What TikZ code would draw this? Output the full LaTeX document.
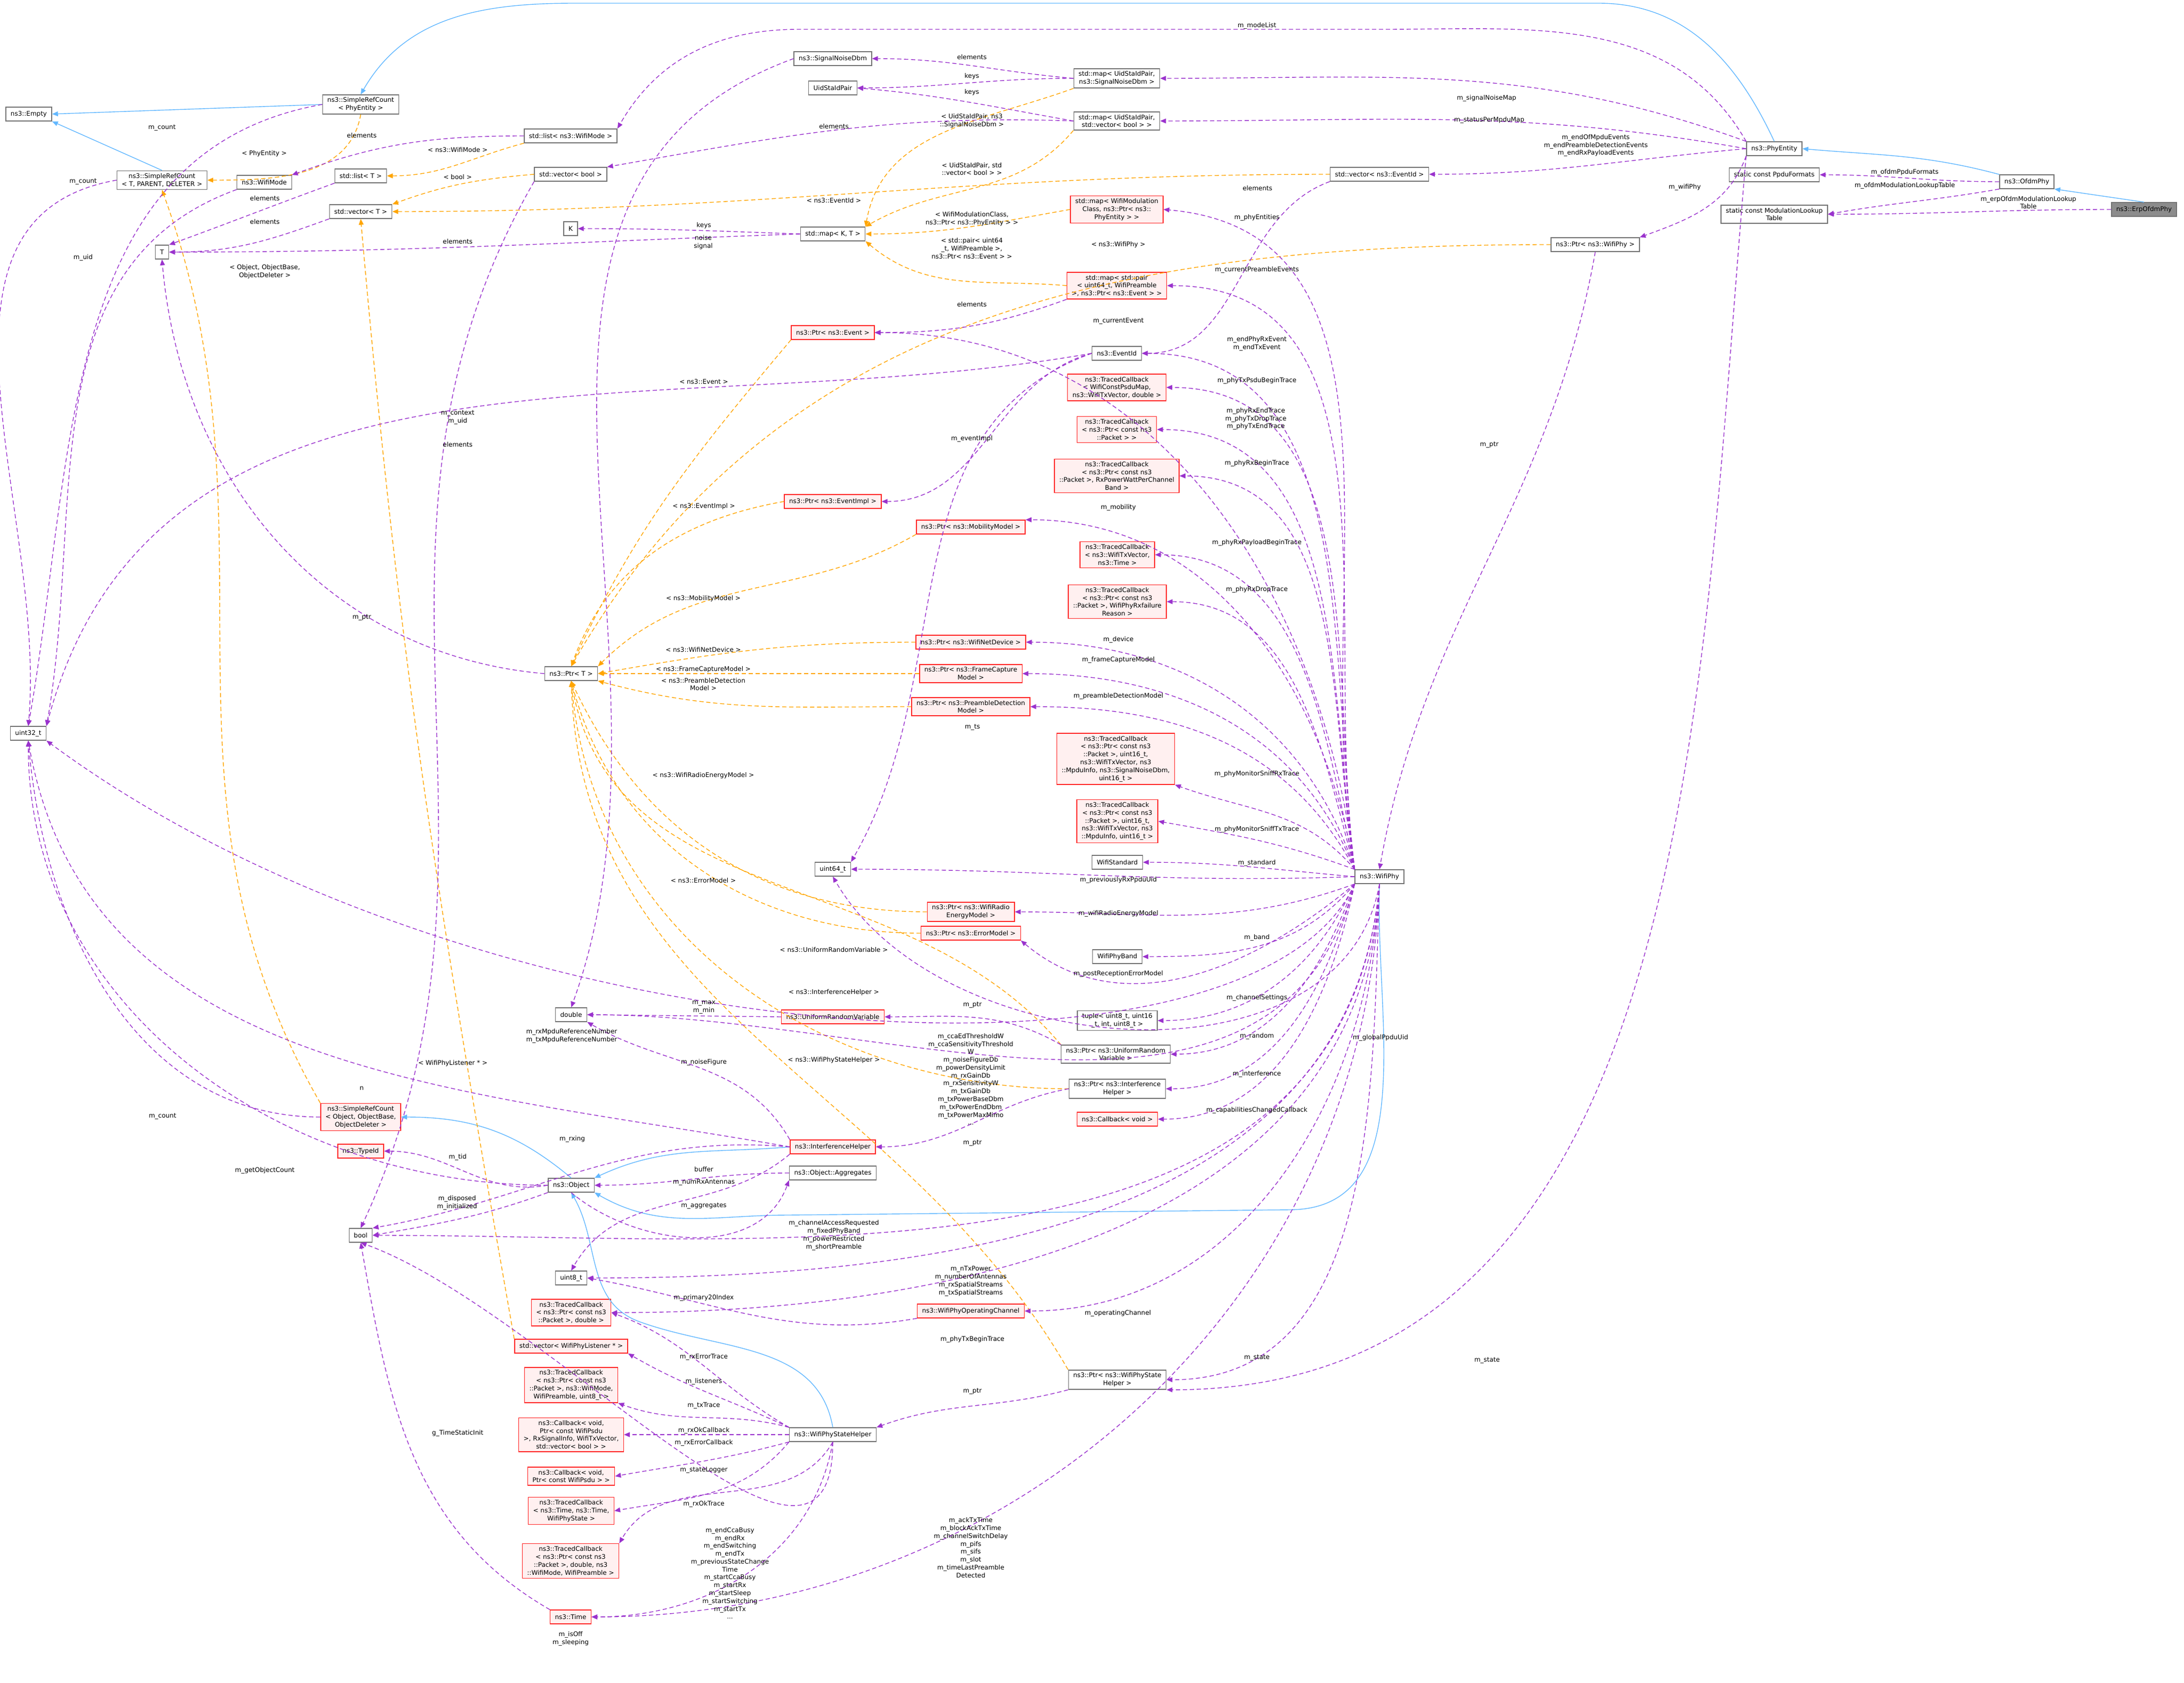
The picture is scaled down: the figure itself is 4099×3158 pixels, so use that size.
\documentclass[tikz,border=0pt]{standalone}
\usepackage{fontspec}
\setmainfont{DejaVu Sans}
\usetikzlibrary{arrows.meta}

\definecolor{memcol}{HTML}{9A32CD}
\definecolor{tplcol}{HTML}{FFA500}
\definecolor{inhcol}{HTML}{63B8FF}

\tikzset{
  box/.style={draw=black!55, fill=white, line width=0.4pt, inner xsep=0.9mm, inner ysep=0.5mm,
    minimum height=2.6mm, align=center, font=\fontsize{3.4}{4.2}\selectfont},
  rbox/.style={box, draw=red!85, fill=red!6},
  gbox/.style={box, fill=black!45},
  lbl/.style={inner sep=0pt, align=center, font=\fontsize{3.4}{4.2}\selectfont},
  mem/.style={draw=memcol, line width=0.4pt, dash pattern=on 0.8mm off 0.5mm,
    -{Triangle[length=1.1mm,width=0.9mm,fill=memcol]}},
  tpl/.style={draw=tplcol, line width=0.4pt, dash pattern=on 0.8mm off 0.5mm,
    -{Triangle[length=1.1mm,width=0.9mm,fill=tplcol]}},
  inh/.style={draw=inhcol, line width=0.4pt, -{Triangle[length=1.1mm,width=0.9mm,fill=inhcol]}},
}

\begin{document}
\begin{tikzpicture}[x=0.01cm,y=-0.01cm]
\useasboundingbox (0,0) rectangle (4099,3158);
% classes, left column
\node[box] (empty) at (54,214) {ns3::Empty};
\node[box] (srcPhy) at (677,196) {ns3::SimpleRefCount\\< PhyEntity >};
\node[box] (srcT) at (304,338) {ns3::SimpleRefCount\\< T, PARENT, DELETER >};
\node[box] (wmode) at (496,342) {ns3::WifiMode};
\node[box] (listT) at (677,330) {std::list< T >};
\node[box] (listMode) at (1071,255) {std::list< ns3::WifiMode >};
\node[box] (vecBool) at (1071,327) {std::vector< bool >};
\node[box] (vecT) at (677,397) {std::vector< T >};
\node[box] (kk) at (1071,429) {K};
\node[box] (tt) at (304,473) {T};
\node[box] (u32) at (53,1376) {uint32\_t};
\node[rbox] (srcObj) at (677,2096) {ns3::SimpleRefCount\\< Object, ObjectBase,\\ObjectDeleter >};
\node[rbox] (tid) at (677,2160) {ns3::TypeId};
\node[box] (bool) at (677,2318) {bool};
% maps and events
\node[box] (snr) at (1563,110) {ns3::SignalNoiseDbm};
\node[box] (uidpair) at (1563,165) {UidStaIdPair};
\node[box] (mapSnr) at (2096,147) {std::map< UidStaIdPair,\\ns3::SignalNoiseDbm >};
\node[box] (mapStatus) at (2096,227) {std::map< UidStaIdPair,\\std::vector< bool > >};
\node[box] (vecEvId) at (2589,327) {std::vector< ns3::EventId >};
\node[rbox] (mapModCls) at (2096,393) {std::map< WifiModulation\\Class, ns3::Ptr< ns3::\\PhyEntity > >};
\node[box] (mapKT) at (1563,439) {std::map< K, T >};
\node[rbox] (mapPair) at (2096,536) {std::map< std::pair\\< uint64\_t, WifiPreamble\\>, ns3::Ptr< ns3::Event > >};
\node[rbox] (ptrEvent) at (1563,624) {ns3::Ptr< ns3::Event >};
\node[box] (evId) at (2096,663) {ns3::EventId};
\node[rbox] (tcPsdu) at (2096,727) {ns3::TracedCallback\\< WifiConstPsduMap,\\ns3::WifiTxVector, double >};
\node[rbox] (tcPkt) at (2096,806) {ns3::TracedCallback\\< ns3::Ptr< const ns3\\::Packet > >};
\node[rbox] (tcRxBegin) at (2096,893) {ns3::TracedCallback\\< ns3::Ptr< const ns3\\::Packet >, RxPowerWattPerChannel\\Band >};
\node[rbox] (ptrEvImpl) at (1563,941) {ns3::Ptr< ns3::EventImpl >};
\node[rbox] (ptrMob) at (1822,989) {ns3::Ptr< ns3::MobilityModel >};
% phy entities
\node[box] (phyEnt) at (3330,279) {ns3::PhyEntity};
\node[box] (ppduFmt) at (3330,328) {static const PpduFormats};
\node[box] (modTable) at (3330,402) {static const ModulationLookup\\Table};
\node[box] (ofdm) at (3804,341) {ns3::OfdmPhy};
\node[gbox] (erp) at (4024,393) {ns3::ErpOfdmPhy};
\node[box] (ptrWifiPhy) at (2994,459) {ns3::Ptr< ns3::WifiPhy >};
% middle column
\node[rbox] (tcTxVec) at (2097,1041) {ns3::TracedCallback\\< ns3::WifiTxVector,\\ns3::Time >};
\node[rbox] (tcRxFail) at (2097,1129) {ns3::TracedCallback\\< ns3::Ptr< const ns3\\::Packet >, WifiPhyRxfailure\\Reason >};
\node[rbox] (ptrDev) at (1822,1205) {ns3::Ptr< ns3::WifiNetDevice >};
\node[rbox] (ptrFrame) at (1822,1264) {ns3::Ptr< ns3::FrameCapture\\Model >};
\node[rbox] (ptrPre) at (1822,1326) {ns3::Ptr< ns3::PreambleDetection\\Model >};
\node[box] (ptrT) at (1072,1264) {ns3::Ptr< T >};
\node[rbox] (tcSniffRx) at (2094,1424) {ns3::TracedCallback\\< ns3::Ptr< const ns3\\::Packet >, uint16\_t,\\ns3::WifiTxVector, ns3\\::MpduInfo, ns3::SignalNoiseDbm,\\uint16\_t >};
\node[rbox] (tcSniffTx) at (2097,1541) {ns3::TracedCallback\\< ns3::Ptr< const ns3\\::Packet >, uint16\_t,\\ns3::WifiTxVector, ns3\\::MpduInfo, uint16\_t >};
\node[box] (wstd) at (2097,1618) {WifiStandard};
\node[box] (u64) at (1563,1631) {uint64\_t};
\node[rbox] (ptrEnergy) at (1822,1711) {ns3::Ptr< ns3::WifiRadio\\EnergyModel >};
\node[rbox] (ptrErr) at (1822,1751) {ns3::Ptr< ns3::ErrorModel >};
\node[box] (wband) at (2097,1795) {WifiPhyBand};
\node[box] (dbl) at (1072,1904) {double};
\node[rbox] (urv) at (1563,1908) {ns3::UniformRandomVariable};
\node[box] (tup) at (2097,1915) {tuple< uint8\_t, uint16\\\_t, int, uint8\_t >};
\node[box] (ptrUrv) at (2094,1978) {ns3::Ptr< ns3::UniformRandom\\Variable >};
\node[box] (wifiphy) at (2589,1645) {ns3::WifiPhy};
\node[box] (ptrIh) at (2097,2043) {ns3::Ptr< ns3::Interference\\Helper >};
\node[rbox] (cbVoid) at (2097,2100) {ns3::Callback< void >};
\node[rbox] (ih) at (1563,2152) {ns3::InterferenceHelper};
\node[box] (aggr) at (1563,2201) {ns3::Object::Aggregates};
\node[box] (obj) at (1072,2224) {ns3::Object};
\node[box] (u8) at (1072,2398) {uint8\_t};
\node[rbox] (tcPktDbl) at (1072,2463) {ns3::TracedCallback\\< ns3::Ptr< const ns3\\::Packet >, double >};
\node[rbox] (opch) at (1822,2460) {ns3::WifiPhyOperatingChannel};
\node[rbox] (vecLis) at (1072,2526) {std::vector< WifiPhyListener * >};
\node[rbox] (tcMode) at (1072,2599) {ns3::TracedCallback\\< ns3::Ptr< const ns3\\::Packet >, ns3::WifiMode,\\WifiPreamble, uint8\_t >};
\node[box] (ptrWsh) at (2097,2589) {ns3::Ptr< ns3::WifiPhyState\\Helper >};
\node[box] (wsh) at (1563,2692) {ns3::WifiPhyStateHelper};
\node[rbox] (cbRxOk) at (1072,2692) {ns3::Callback< void,\\Ptr< const WifiPsdu\\>, RxSignalInfo, WifiTxVector,\\std::vector< bool > >};
\node[rbox] (cbPsdu) at (1072,2770) {ns3::Callback< void,\\Ptr< const WifiPsdu > >};
\node[rbox] (tcTime) at (1072,2835) {ns3::TracedCallback\\< ns3::Time, ns3::Time,\\WifiPhyState >};
\node[rbox] (tcPre) at (1071,2929) {ns3::TracedCallback\\< ns3::Ptr< const ns3\\::Packet >, double, ns3\\::WifiMode, WifiPreamble >};
\node[rbox] (time) at (1071,3034) {ns3::Time};

% inheritance
\draw[inh] (srcPhy.west) -- (empty.east);
\draw[inh] (srcT.north) -- (empty.south east);
\draw[inh] (phyEnt.north) to[out=115,in=0] (3000,6) -- (1080,6) to[out=180,in=60] (srcPhy.north);
\draw[inh] (ofdm.north west) to[out=165,in=-5] (phyEnt.east);
\draw[inh] (erp.north) -- (ofdm.south east);
\draw[inh] (obj.north) to[out=140,in=0] (srcObj.east);
\draw[inh] (ih.west) to[out=185,in=25] (obj.north east);
\draw[inh] (wsh.north) to[out=100,in=-20] (1200,2480) to[out=160,in=-60] (obj.south);
\draw[inh] (wifiphy.south) to[out=-92,in=0] (2420,2270) -- (1480,2280) to[out=180,in=-30] (obj.south east);

% template instances
\draw[tpl] (srcPhy.south) to[out=-100,in=0] (srcT.east);
\draw[tpl] (listMode.south west) to[out=195,in=0] (listT.east);
\draw[tpl] (vecBool.west) to[out=185,in=20] (vecT.north east);
\draw[tpl] (vecEvId.west) to[out=180,in=0] (vecT.east);
\draw[tpl] (srcObj.north west) to[out=120,in=-70] (srcT.south);
\draw[tpl] (vecLis.north west) to[out=100,in=-85] (vecT.south);
\draw[tpl] (mapSnr.south west) to[out=200,in=80] (mapKT.north east);
\draw[tpl] (mapStatus.south west) to[out=230,in=30] (mapKT.north east);
\draw[tpl] (mapModCls.west) to[out=190,in=0] (mapKT.east);
\draw[tpl] (mapPair.west) to[out=175,in=-40] (mapKT.south east);
\draw[tpl] (ptrWifiPhy.west) to[out=180,in=60] (ptrT.north);
\draw[tpl] (ptrEvent.south west) to[out=230,in=65] (ptrT.north);
\draw[tpl] (ptrEvImpl.west) to[out=190,in=70] (ptrT.north);
\draw[tpl] (ptrMob.south west) to[out=210,in=45] (ptrT.north east);
\draw[tpl] (ptrDev.west) to[out=180,in=10] (ptrT.east);
\draw[tpl] (ptrFrame.west) -- (ptrT.east);
\draw[tpl] (ptrPre.west) to[out=180,in=-15] (ptrT.south east);
\draw[tpl] (ptrEnergy.west) to[out=180,in=-65] (ptrT.south);
\draw[tpl] (ptrErr.west) to[out=180,in=-75] (ptrT.south);
\draw[tpl] (ptrUrv.north west) to[out=130,in=-80] (ptrT.south);
\draw[tpl] (ptrIh.west) to[out=180,in=-85] (ptrT.south);
\draw[tpl] (ptrWsh.north west) to[out=120,in=-88] (ptrT.south);

% members
\draw[mem] (srcPhy.west) to[out=190,in=80] (u32.north);
\draw[mem] (srcT.west) to[out=190,in=85] (u32.north);
\draw[mem] (wmode.south west) to[out=200,in=80] (u32.north east);
\draw[mem] (listMode.west) to[out=180,in=20] (wmode.north east);
\draw[mem] (listT.south west) to[out=200,in=20] (tt.north east);
\draw[mem] (vecT.south west) to[out=200,in=0] (tt.east);
\draw[mem] (mapKT.west) to[out=178,in=0] (kk.east);
\draw[mem] (mapKT.west) to[out=182,in=0] (tt.east);
\draw[mem] (vecBool.south west) to[out=240,in=65] (bool.north);
\draw[mem] (mapSnr.west) to[out=175,in=0] (snr.east);
\draw[mem] (mapSnr.west) to[out=180,in=0] (uidpair.east);
\draw[mem] (mapStatus.west) to[out=170,in=-5] (uidpair.east);
\draw[mem] (mapStatus.west) to[out=178,in=10] (vecBool.north east);
\draw[mem] (snr.west) to[out=200,in=70] (dbl.north);
\draw[mem] (vecEvId.south west) to[out=200,in=0] (evId.east);
\draw[mem] (mapPair.south west) to[out=200,in=0] (ptrEvent.east);
\draw[mem] (ptrT.west) to[out=175,in=-85] (tt.south);
\draw[mem] (evId.west) to[out=190,in=75] (u32.north east);
\draw[mem] (evId.west) to[out=195,in=0] (ptrEvImpl.east);
\draw[mem] (evId.west) to[out=200,in=60] (u64.north east);
\draw[mem] (srcObj.west) to[out=180,in=-85] (u32.south);
\draw[mem] (ih.west) to[out=170,in=-80] (u32.south);
\draw[mem] (obj.west) to[out=180,in=-90] (u32.south);
\draw[mem] (obj.west) to[out=190,in=0] (tid.east);
\draw[mem] (obj.south west) to[out=200,in=10] (bool.east);
\draw[mem] (obj.south) to[out=-40,in=-110] (aggr.south west);
\draw[mem] (aggr.west) to[out=180,in=0] (obj.east);
\draw[mem] (ih.south west) to[out=220,in=60] (u8.north);
\draw[mem] (ih.north west) to[out=120,in=-30] (dbl.south east);
\draw[mem] (ih.west) to[out=175,in=10] (bool.north east);
\draw[mem] (urv.west) -- (dbl.east);
\draw[mem] (wsh.south) to[out=-90,in=-20] (bool.south);
\draw[mem] (time.north west) to[out=150,in=-80] (bool.south);
\draw[mem] (ptrWsh.south west) to[out=195,in=20] (wsh.north east);
\draw[mem] (ptrIh.west) to[out=190,in=0] (ih.east);
\draw[mem] (ptrUrv.north west) to[out=150,in=0] (urv.east);
\draw[mem] (wsh.north west) to[out=150,in=-20] (tcPktDbl.east);
\draw[mem] (wsh.north west) to[out=155,in=-30] (vecLis.south east);
\draw[mem] (wsh.north west) to[out=165,in=-20] (tcMode.south east);
\draw[mem] (wsh.west) -- (cbRxOk.east);
\draw[mem] (wsh.south west) to[out=195,in=10] (cbPsdu.east);
\draw[mem] (wsh.south west) to[out=230,in=10] (tcTime.east);
\draw[mem] (wsh.south) to[out=-120,in=60] (tcPre.north east);
\draw[mem] (wsh.south) to[out=-100,in=0] (time.east);
\draw[mem] (opch.south west) to[out=190,in=-10] (u8.east);
% WifiPhy members
\draw[mem] (wifiphy.north west) to[out=100,in=-5] (mapModCls.east);
\draw[mem] (wifiphy.north west) to[out=98,in=0] (mapPair.east);
\draw[mem] (wifiphy.north west) to[out=97,in=0] (ptrEvent.east);
\draw[mem] (wifiphy.north west) to[out=97,in=0] (evId.east);
\draw[mem] (wifiphy.north west) to[out=97,in=0] (tcPsdu.east);
\draw[mem] (wifiphy.north west) to[out=98,in=0] (tcPkt.east);
\draw[mem] (wifiphy.north west) to[out=99,in=0] (tcRxBegin.east);
\draw[mem] (wifiphy.north west) to[out=100,in=0] (ptrMob.north east);
\draw[mem] (wifiphy.north west) to[out=102,in=0] (tcTxVec.east);
\draw[mem] (wifiphy.north west) to[out=105,in=0] (tcRxFail.east);
\draw[mem] (wifiphy.north west) to[out=108,in=0] (ptrDev.east);
\draw[mem] (wifiphy.north west) to[out=112,in=0] (ptrFrame.east);
\draw[mem] (wifiphy.north west) to[out=118,in=0] (ptrPre.east);
\draw[mem] (wifiphy.north west) to[out=130,in=-20] (tcSniffRx.south east);
\draw[mem] (wifiphy.north west) to[out=160,in=-10] (tcSniffTx.east);
\draw[mem] (wifiphy.west) to[out=175,in=0] (wstd.east);
\draw[mem] (wifiphy.west) to[out=182,in=0] (u64.east);
\draw[mem] (wifiphy.south west) to[out=200,in=0] (ptrEnergy.east);
\draw[mem] (wifiphy.south west) to[out=220,in=-40] (ptrErr.south east);
\draw[mem] (wifiphy.south west) to[out=230,in=0] (wband.east);
\draw[mem] (wifiphy.south west) to[out=245,in=0] (tup.east);
\draw[mem] (wifiphy.south west) to[out=250,in=0] (ptrUrv.east);
\draw[mem] (wifiphy.south west) to[out=255,in=0] (ptrIh.east);
\draw[mem] (wifiphy.south west) to[out=258,in=0] (cbVoid.east);
\draw[mem] (wifiphy.south) to[out=-100,in=-60] (u64.south);
\draw[mem] (wifiphy.south west) to[out=255,in=0] (dbl.east);
\draw[mem] (wifiphy.south west) .. controls (2350,2080) and (900,1990) .. (u32.south east);
\draw[mem] (wifiphy.south) to[out=-95,in=0] (bool.east);
\draw[mem] (wifiphy.south) to[out=-95,in=0] (u8.east);
\draw[mem] (wifiphy.south) to[out=-93,in=0] (opch.east);
\draw[mem] (wifiphy.south) to[out=-93,in=0] (tcPktDbl.east);
\draw[mem] (wifiphy.south) to[out=-92,in=0] (ptrWsh.east);
\draw[mem] (wifiphy.south) to[out=-92,in=0] (time.east);
% PhyEntity members
\draw[mem] (phyEnt.north west) to[out=120,in=0] (2600,55) -- (1500,55) to[out=180,in=60] (listMode.north east);
\draw[mem] (phyEnt.north west) to[out=160,in=0] (mapSnr.east);
\draw[mem] (phyEnt.west) to[out=170,in=0] (mapStatus.east);
\draw[mem] (phyEnt.west) to[out=185,in=0] (vecEvId.east);
\draw[mem] (phyEnt.south west) to[out=250,in=20] (ptrWifiPhy.north east);
\draw[mem] (phyEnt.south west) to[out=-95,in=0] (ptrWsh.south east);
\draw[mem] (ptrWifiPhy.south) to[out=-100,in=80] (wifiphy.north);
\draw[mem] (ofdm.west) to[out=180,in=0] (ppduFmt.east);
\draw[mem] (ofdm.south west) to[out=190,in=10] (modTable.east);
\draw[mem] (erp.west) to[out=180,in=0] (modTable.east);

% labels
\node[lbl] at (496,288) {< PhyEntity >};
\node[lbl] at (859,281) {< ns3::WifiMode >};
\node[lbl] at (859,332) {< bool >};
\node[lbl] at (1565,376) {< ns3::EventId >};
\node[lbl] at (497,510) {< Object, ObjectBase,\\ObjectDeleter >};
\node[lbl] at (850,1995) {< WifiPhyListener * >};
\node[lbl] at (1824,227) {< UidStaIdPair, ns3\\::SignalNoiseDbm >};
\node[lbl] at (1824,317) {< UidStaIdPair, std\\::vector< bool > >};
\node[lbl] at (1824,411) {< WifiModulationClass,\\ns3::Ptr< ns3::PhyEntity > >};
\node[lbl] at (1824,466) {< std::pair< uint64\\\_t, WifiPreamble >,\\ns3::Ptr< ns3::Event > >};
\node[lbl] at (2099,459) {< ns3::WifiPhy >};
\node[lbl] at (1321,716) {< ns3::Event >};
\node[lbl] at (1321,950) {< ns3::EventImpl >};
\node[lbl] at (1320,1123) {< ns3::MobilityModel >};
\node[lbl] at (1320,1219) {< ns3::WifiNetDevice >};
\node[lbl] at (1320,1256) {< ns3::FrameCaptureModel >};
\node[lbl] at (1320,1284) {< ns3::PreambleDetection\\Model >};
\node[lbl] at (1320,1455) {< ns3::WifiRadioEnergyModel >};
\node[lbl] at (1320,1652) {< ns3::ErrorModel >};
\node[lbl] at (1565,1782) {< ns3::UniformRandomVariable >};
\node[lbl] at (1565,1862) {< ns3::InterferenceHelper >};
\node[lbl] at (1565,1989) {< ns3::WifiPhyStateHelper >};
\node[lbl] at (304,240) {m\_count};
\node[lbl] at (156,341) {m\_count};
\node[lbl] at (156,483) {m\_uid};
\node[lbl] at (679,254) {elements};
\node[lbl] at (497,372) {elements};
\node[lbl] at (497,416) {elements};
\node[lbl] at (1321,423) {keys};
\node[lbl] at (859,453) {elements};
\node[lbl] at (1320,455) {noise\\signal};
\node[lbl] at (859,834) {elements};
\node[lbl] at (1824,107) {elements};
\node[lbl] at (1824,143) {keys};
\node[lbl] at (1824,173) {keys};
\node[lbl] at (1565,237) {elements};
\node[lbl] at (2360,353) {elements};
\node[lbl] at (679,1159) {m\_ptr};
\node[lbl] at (1824,571) {elements};
\node[lbl] at (859,783) {m\_context\\m\_uid};
\node[lbl] at (1824,823) {m\_eventImpl};
\node[lbl] at (1825,1365) {m\_ts};
\node[lbl] at (497,2196) {m\_getObjectCount};
\node[lbl] at (305,2095) {m\_count};
\node[lbl] at (679,2042) {n};
\node[lbl] at (859,2171) {m\_tid};
\node[lbl] at (858,2257) {m\_disposed\\m\_initialized};
\node[lbl] at (1321,2263) {m\_aggregates};
\node[lbl] at (1321,2194) {buffer};
\node[lbl] at (1321,2219) {m\_numRxAntennas};
\node[lbl] at (1321,1993) {m\_noiseFigure};
\node[lbl] at (1074,2137) {m\_rxing};
\node[lbl] at (1321,1890) {m\_max\\m\_min};
\node[lbl] at (1073,1944) {m\_rxMpduReferenceNumber\\m\_txMpduReferenceNumber};
\node[lbl] at (1822,2025) {m\_ccaEdThresholdW\\m\_ccaSensitivityThreshold\\W\\m\_noiseFigureDb\\m\_powerDensityLimit\\m\_rxGainDb\\m\_rxSensitivityW\\m\_txGainDb\\m\_txPowerBaseDbm\\m\_txPowerEndDbm\\m\_txPowerMaxMimo\\...};
\node[lbl] at (1071,3075) {m\_isOff\\m\_sleeping};
\node[lbl] at (859,2689) {g\_TimeStaticInit};
\node[lbl] at (1825,2611) {m\_ptr};
\node[lbl] at (1825,2145) {m\_ptr};
\node[lbl] at (1825,1886) {m\_ptr};
\node[lbl] at (1321,2547) {m\_rxErrorTrace};
\node[lbl] at (1321,2592) {m\_listeners};
\node[lbl] at (1321,2638) {m\_txTrace};
\node[lbl] at (1321,2684) {m\_rxOkCallback};
\node[lbl] at (1321,2707) {m\_rxErrorCallback};
\node[lbl] at (1321,2759) {m\_stateLogger};
\node[lbl] at (1321,2822) {m\_rxOkTrace};
\node[lbl] at (1370,2952) {m\_endCcaBusy\\m\_endRx\\m\_endSwitching\\m\_endTx\\m\_previousStateChange\\Time\\m\_startCcaBusy\\m\_startRx\\m\_startSleep\\m\_startSwitching\\m\_startTx\\...};
\node[lbl] at (1822,2904) {m\_ackTxTime\\m\_blockAckTxTime\\m\_channelSwitchDelay\\m\_pifs\\m\_sifs\\m\_slot\\m\_timeLastPreamble\\Detected};
\node[lbl] at (2359,2548) {m\_state};
\node[lbl] at (2791,2553) {m\_state};
\node[lbl] at (1825,2513) {m\_phyTxBeginTrace};
\node[lbl] at (2098,2464) {m\_operatingChannel};
\node[lbl] at (1321,2435) {m\_primary20Index};
\node[lbl] at (1822,2404) {m\_nTxPower\\m\_numberOfAntennas\\m\_rxSpatialStreams\\m\_txSpatialStreams};
\node[lbl] at (1565,2318) {m\_channelAccessRequested\\m\_fixedPhyBand\\m\_powerRestricted\\m\_shortPreamble};
\node[lbl] at (2359,2083) {m\_capabilitiesChangedCallback};
\node[lbl] at (2359,2015) {m\_interference};
\node[lbl] at (2359,1944) {m\_random};
\node[lbl] at (2359,1872) {m\_channelSettings};
\node[lbl] at (2591,1947) {m\_globalPpduUid};
\node[lbl] at (2099,1827) {m\_postReceptionErrorModel};
\node[lbl] at (2359,1759) {m\_band};
\node[lbl] at (2099,1714) {m\_wifiRadioEnergyModel};
\node[lbl] at (2099,1651) {m\_previouslyRxPpduUid};
\node[lbl] at (2359,1619) {m\_standard};
\node[lbl] at (2359,1556) {m\_phyMonitorSniffTxTrace};
\node[lbl] at (2359,1452) {m\_phyMonitorSniffRxTrace};
\node[lbl] at (2099,1306) {m\_preambleDetectionModel};
\node[lbl] at (2099,1238) {m\_frameCaptureModel};
\node[lbl] at (2099,1200) {m\_device};
\node[lbl] at (2359,1106) {m\_phyRxDropTrace};
\node[lbl] at (2359,1018) {m\_phyRxPayloadBeginTrace};
\node[lbl] at (2099,952) {m\_mobility};
\node[lbl] at (2359,869) {m\_phyRxBeginTrace};
\node[lbl] at (2357,786) {m\_phyRxEndTrace\\m\_phyTxDropTrace\\m\_phyTxEndTrace};
\node[lbl] at (2359,714) {m\_phyTxPsduBeginTrace};
\node[lbl] at (2359,645) {m\_endPhyRxEvent\\m\_endTxEvent};
\node[lbl] at (2099,603) {m\_currentEvent};
\node[lbl] at (2359,506) {m\_currentPreambleEvents};
\node[lbl] at (2359,408) {m\_phyEntities};
\node[lbl] at (2795,835) {m\_ptr};
\node[lbl] at (3162,351) {m\_wifiPhy};
\node[lbl] at (2359,48) {m\_modeList};
\node[lbl] at (2790,184) {m\_signalNoiseMap};
\node[lbl] at (2795,225) {m\_statusPerMpduMap};
\node[lbl] at (2995,273) {m\_endOfMpduEvents\\m\_endPreambleDetectionEvents\\m\_endRxPayloadEvents};
\node[lbl] at (3575,323) {m\_ofdmPpduFormats};
\node[lbl] at (3575,348) {m\_ofdmModulationLookupTable};
\node[lbl] at (3807,380) {m\_erpOfdmModulationLookup\\Table};
\end{tikzpicture}
\end{document}
